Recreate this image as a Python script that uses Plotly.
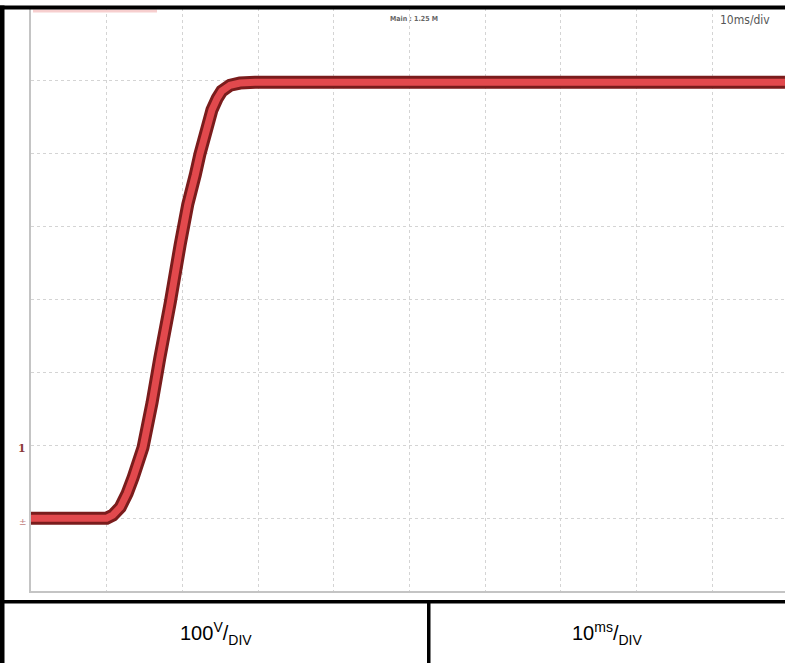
import plotly.graph_objects as go

# Data (time in ms, voltage in V)
time_ms = [0.0, 10.0, 10.8, 11.8, 12.7, 13.5, 14.8, 16.0, 17.0, 18.4, 19.7,
           20.7, 21.7, 22.3, 23.3, 23.9, 24.6, 25.2, 26.3, 27.6, 29.6, 99.6]
voltage_v = [0, 0, 4, 15, 34, 56, 97, 159, 219, 296, 375,
             430, 471, 499, 537, 560, 576, 586, 594, 597, 598, 598]

scale_labels = ["100<sup>V</sup>/<sub>DIV</sub>", "10<sup>ms</sup>/<sub>DIV</sub>"]
timebase_label = "10ms/div"
main_label = "Main : 1.25 M"

W, H = 785, 663
L, R, T, B = 31, 0, 8, 72
PW = W - L - R
PH = H - T - B


def px(x):
    return (x - L) / PW


def py(y):
    return (H - B - y) / PH


fig = go.Figure()
fig.add_trace(go.Scatter(x=time_ms, y=voltage_v, mode="lines",
                         line=dict(color="#7a1c1c", width=13, simplify=False),
                         hoverinfo="skip", showlegend=False))
fig.add_trace(go.Scatter(x=time_ms, y=voltage_v, mode="lines",
                         line=dict(color="#e2494d", width=7, simplify=False),
                         hoverinfo="skip", showlegend=False))

x_max = 10 * PW / 75.7

fig.update_xaxes(range=[0, x_max], dtick=10, tick0=0, showgrid=True, gridcolor="#d4d4d4",
                 griddash="dot", gridwidth=1, showticklabels=False, ticks="", zeroline=False,
                 showline=True, linecolor="#c4c4c4", linewidth=2, mirror=False)
fig.update_yaxes(range=[-100, 700], dtick=100, tick0=0, showgrid=True, gridcolor="#d4d4d4",
                 griddash="dot", gridwidth=1, showticklabels=False, ticks="", zeroline=False,
                 showline=True, linecolor="#c4c4c4", linewidth=2, mirror=False)

shapes = []
# faint trigger marker at top left
shapes.append(dict(type="line", xref="paper", yref="paper", x0=px(33), x1=px(157),
                   y0=py(11), y1=py(11), line=dict(color="#f7cfcf", width=3)))
# top border
shapes.append(dict(type="rect", xref="paper", yref="paper", x0=px(-2), x1=px(790),
                   y0=py(9.5), y1=py(5.5), fillcolor="black", line=dict(width=0)))
# left border
shapes.append(dict(type="rect", xref="paper", yref="paper", x0=px(-2), x1=px(4.5),
                   y0=py(670), y1=py(5.5), fillcolor="black", line=dict(width=0)))
# table top line
shapes.append(dict(type="rect", xref="paper", yref="paper", x0=px(-2), x1=px(790),
                   y0=py(603.5), y1=py(600), fillcolor="black", line=dict(width=0)))
# table divider
shapes.append(dict(type="rect", xref="paper", yref="paper", x0=px(427), x1=px(430.5),
                   y0=py(670), y1=py(600), fillcolor="black", line=dict(width=0)))

annotations = [
    dict(text=scale_labels[0], x=px(216), y=py(633), xref="paper", yref="paper",
         showarrow=False, xanchor="center", yanchor="middle",
         font=dict(family="Liberation Sans, Arial, sans-serif", size=20, color="black")),
    dict(text=scale_labels[1], x=px(607), y=py(633), xref="paper", yref="paper",
         showarrow=False, xanchor="center", yanchor="middle",
         font=dict(family="Liberation Sans, Arial, sans-serif", size=20, color="black")),
    dict(text=timebase_label, x=px(745), y=py(20), xref="paper", yref="paper",
         showarrow=False, xanchor="center", yanchor="middle",
         font=dict(family="Liberation Sans Narrow, DejaVu Sans Condensed, sans-serif",
                   size=12, color="#555555")),
    dict(text="<b>" + main_label + "</b>", x=px(414), y=py(19), xref="paper", yref="paper",
         showarrow=False, xanchor="center", yanchor="middle",
         font=dict(family="DejaVu Sans Condensed, sans-serif", size=7, color="#666666")),
    dict(text="<b>1</b>", x=px(22), y=py(448), xref="paper", yref="paper",
         showarrow=False, xanchor="center", yanchor="middle",
         font=dict(family="DejaVu Serif, serif", size=11, color="#8b3a3a")),
    dict(text="±", x=px(23), y=py(522), xref="paper", yref="paper",
         showarrow=False, xanchor="center", yanchor="middle",
         font=dict(family="DejaVu Sans, sans-serif", size=9, color="#c08080")),
]

fig.update_layout(width=W, height=H, margin=dict(l=L, r=R, t=T, b=B),
                  paper_bgcolor="white", plot_bgcolor="white",
                  shapes=shapes, annotations=annotations, showlegend=False)

fig.write_html("out.html", config={"displayModeBar": False},
               post_script="document.body.style.margin='0';document.body.style.overflow='hidden';")
